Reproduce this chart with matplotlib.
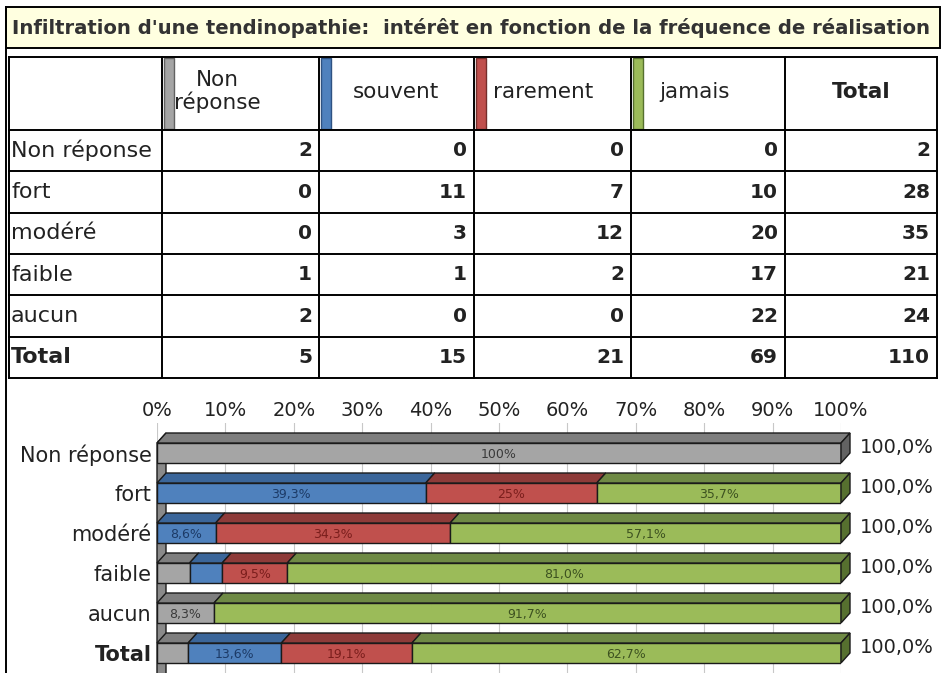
import matplotlib
matplotlib.use("Agg")
import matplotlib.pyplot as plt
from matplotlib.patches import Rectangle, Polygon


# ----------------------------
# Data
# ----------------------------

TITLE = "Infiltration d'une tendinopathie:  intérêt en fonction de la fréquence de réalisation"

row_labels = ["Non réponse", "fort", "modéré", "faible", "aucun", "Total"]
series_names = ["Non\nréponse", "souvent", "rarement", "jamais"]

non_reponse = [2, 0, 0, 1, 2, 5]
souvent = [0, 11, 3, 1, 0, 15]
rarement = [0, 7, 12, 2, 0, 21]
jamais = [0, 10, 20, 17, 22, 69]

# labels shown inside the bar segments (empty = no label)
seg_labels = [
    ["100%", "", "", ""],
    ["", "39,3%", "25%", "35,7%"],
    ["", "8,6%", "34,3%", "57,1%"],
    ["", "", "9,5%", "81,0%"],
    ["8,3%", "", "", "91,7%"],
    ["", "13,6%", "19,1%", "62,7%"],
]

tick_values = list(range(0, 101, 10))


# ----------------------------
# Styles
# ----------------------------

FRONT = ["#A5A5A5", "#4F81BD", "#C0504D", "#9BBB59"]
TOP = ["#7E7E7E", "#3B669A", "#8E3B39", "#6F8A45"]
SIDE = ["#626262", "#2E5282", "#742E2C", "#56702F"]
LABEL = ["#3A3A3A", "#1C3A66", "#7A1E1C", "#3D5220"]
EDGE = "#1A1A1A"
TXT = "#222222"

W, H = 942, 673
plt.rcParams["font.family"] = ["DejaVu Sans"]

fig = plt.figure(figsize=(W / 100, H / 100), dpi=100)
fig.patch.set_facecolor("white")

# pixel-space axes for the frame and the table
ax = fig.add_axes([0, 0, 1, 1])
ax.set_xlim(0, W)
ax.set_ylim(H, 0)
ax.axis("off")

# ----------------------------
# Title band and frame
# ----------------------------

ax.add_patch(Rectangle((6, 7), 934, 41, facecolor="#FFFFE0",
                       edgecolor="black", lw=1.4))
ax.plot([6, 6], [7, H], color="black", lw=1.4)
ax.text(12, 28, TITLE, fontsize=14.1, fontweight="bold", color="#333333",
        ha="left", va="center")

# ----------------------------
# Table
# ----------------------------

series = [non_reponse, souvent, rarement, jamais]
totals = [sum(v) for v in zip(*series)]
columns = series + [totals]

col_x = [9, 162, 319, 474, 631, 785, 937]
row_y = [57, 130, 171.3, 212.7, 254, 295.3, 336.7, 378]

for x in col_x:
    ax.plot([x, x], [row_y[0], row_y[-1]], color="black", lw=1.4)
for y in row_y:
    ax.plot([col_x[0], col_x[-1]], [y, y], color="black", lw=1.4)

# coloured markers in the header cells
for j, color in enumerate(FRONT):
    ax.add_patch(Rectangle((col_x[j + 1] + 1.5, row_y[0] + 1), 10,
                           row_y[1] - row_y[0] - 2,
                           facecolor=color, edgecolor=SIDE[j], lw=1.0))

header_x = [217, 396, 543, 695, 861]
for j, name in enumerate(series_names + ["Total"]):
    ax.text(header_x[j], (row_y[0] + row_y[1]) / 2 - 2, name,
            fontsize=15.5, color=TXT, ha="center", va="center",
            linespacing=1.1,
            fontweight="bold" if name == "Total" else "normal")

for i, label in enumerate(row_labels):
    yc = (row_y[i + 1] + row_y[i + 2]) / 2
    ax.text(11, yc, label, fontsize=16, color=TXT, ha="left", va="center",
            fontweight="bold" if label == "Total" else "normal")
    for j, col in enumerate(columns):
        ax.text(col_x[j + 2] - 7, yc, str(col[i]), fontsize=14.5,
                fontweight="bold", color=TXT, ha="right", va="center")

# ----------------------------
# 3D-looking stacked bars
# ----------------------------

x0_px, x1_px = 157, 841
top_px = 423
bx = fig.add_axes([x0_px / W, 0, (x1_px - x0_px) / W, (H - top_px) / H])
bx.set_xlim(0, 100)
bx.set_ylim(5.5, -0.75)
bx.patch.set_alpha(0)
for s in bx.spines.values():
    s.set_visible(False)

dx = 9 / ((x1_px - x0_px) / 100)   # depth in x data units
dy = 0.25                          # depth in y data units
half = 0.25                        # half height of the front face

bx.set_xticks(tick_values)
bx.set_xticklabels([f"{t}%" for t in tick_values], fontsize=14, color=TXT)
bx.xaxis.tick_top()
bx.tick_params(axis="x", length=0, pad=2)
bx.set_yticks(range(len(row_labels)))
bx.set_yticklabels(row_labels, fontsize=15, color=TXT)
bx.tick_params(axis="y", length=0, pad=4)
bx.get_yticklabels()[-1].set_fontweight("bold")

for t in tick_values:
    bx.axvline(t, color="#C8C8C8", lw=0.8, zorder=0)

# left wall
bx.add_patch(Polygon([(0, 5.6), (0, -half), (dx, -half - dy), (dx, 5.6)],
                     closed=True, facecolor="#8A8A8A", edgecolor=EDGE,
                     lw=1.0, zorder=1, clip_on=False))

for i in range(len(row_labels)):
    total = totals[i]
    left = 0.0
    last = 0
    for j, vals in enumerate(series):
        pct = vals[i] / total * 100
        if pct <= 0:
            continue
        bx.barh(i, pct, left=left, height=2 * half, color=FRONT[j],
                edgecolor=EDGE, lw=1.0, zorder=3)
        bx.add_patch(Polygon([(left, i - half), (left + pct, i - half),
                              (left + pct + dx, i - half - dy),
                              (left + dx, i - half - dy)],
                             closed=True, facecolor=TOP[j], edgecolor=EDGE,
                             lw=1.0, zorder=3, clip_on=False))
        if seg_labels[i][j]:
            bx.text(left + pct / 2, i + 0.04, seg_labels[i][j], fontsize=9,
                    color=LABEL[j], ha="center", va="center", zorder=5)
        left += pct
        last = j
    bx.add_patch(Polygon([(left, i + half), (left, i - half),
                          (left + dx, i - half - dy), (left + dx, i + half - dy)],
                         closed=True, facecolor=SIDE[last], edgecolor=EDGE,
                         lw=1.0, zorder=3, clip_on=False))
    total_txt = f"{left:.1f}".replace(".", ",") + "%"
    bx.text(left + dx + 1.4, i - 0.13, total_txt, fontsize=14, color=TXT,
            ha="left", va="center", clip_on=False)

fig.savefig("out.png", dpi=100)
